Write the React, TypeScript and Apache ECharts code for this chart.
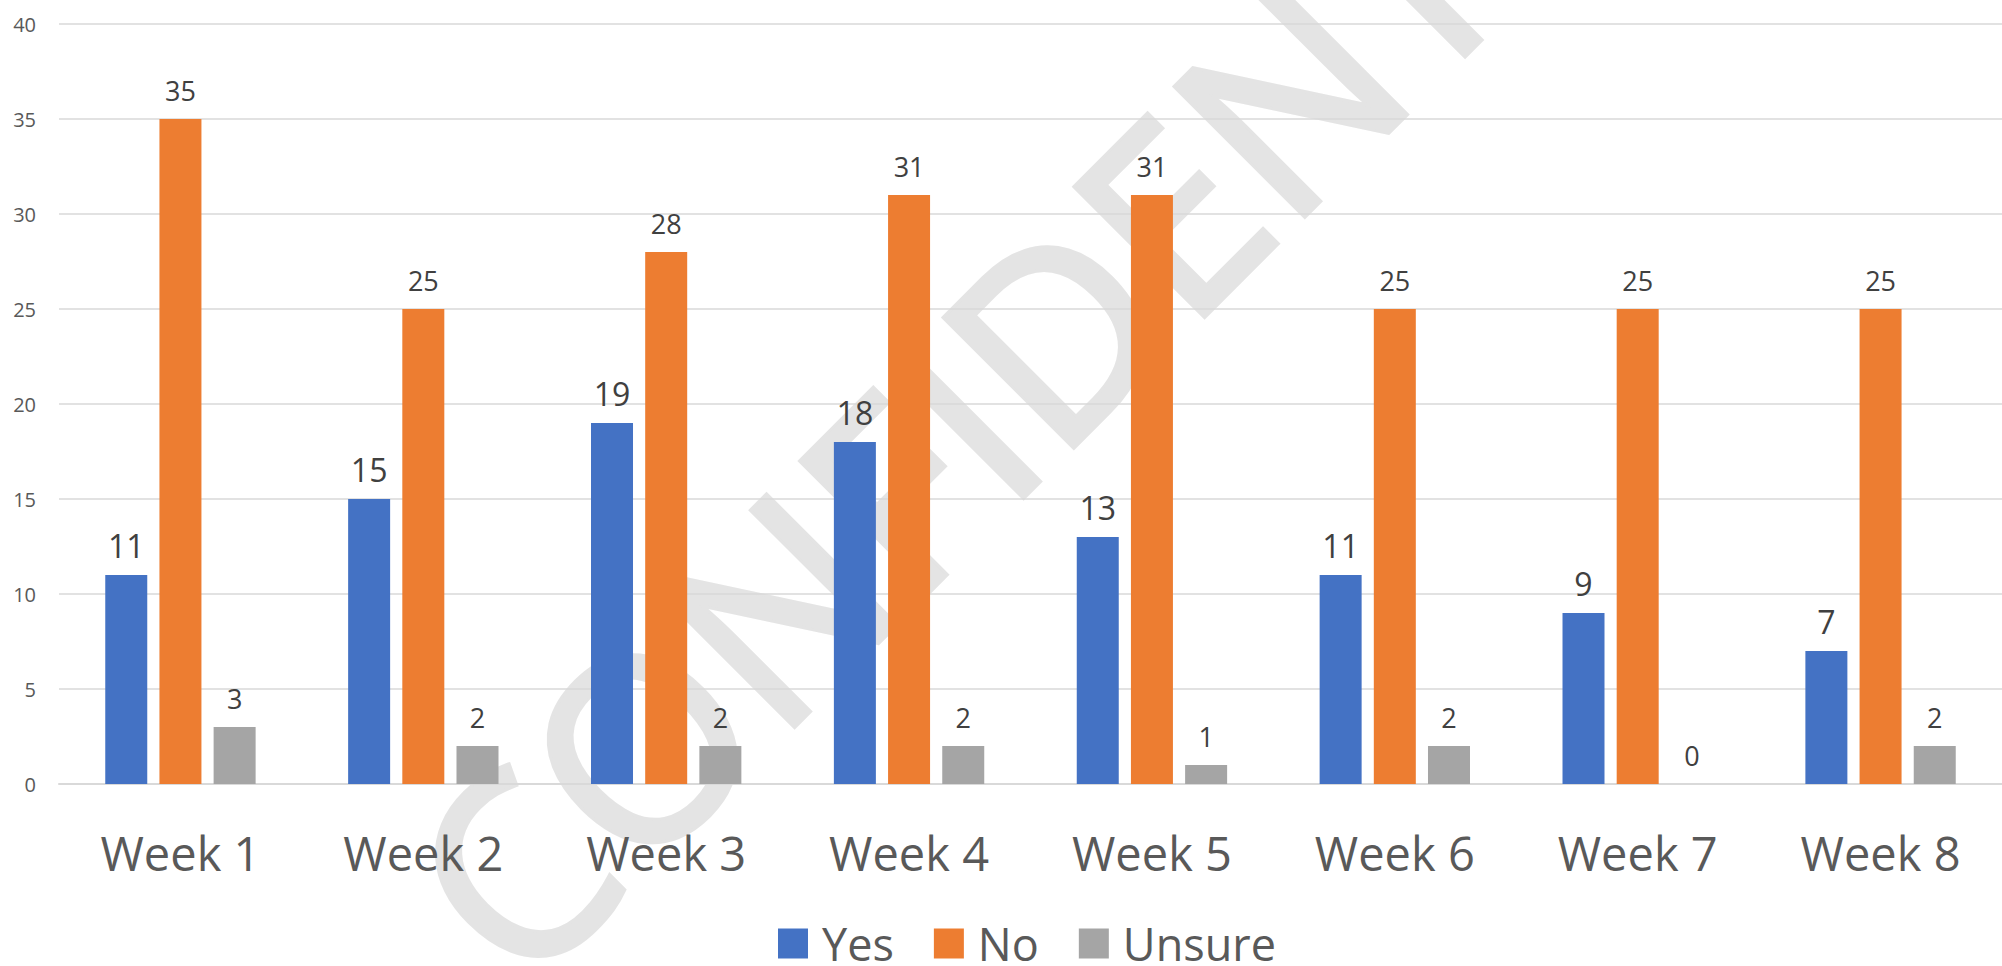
import React, { useEffect, useRef } from "react";
import * as echarts from "echarts";

const categories = ["Week 1", "Week 2", "Week 3", "Week 4", "Week 5", "Week 6", "Week 7", "Week 8"];
const yesValues = [11, 15, 19, 18, 13, 11, 9, 7];
const noValues = [35, 25, 28, 31, 31, 25, 25, 25];
const unsureValues = [3, 2, 2, 2, 1, 2, 0, 2];
const seriesNames = ["Yes", "No", "Unsure"];
const seriesColors = ["#4472C4", "#ED7D31", "#A5A5A5"];
const labelSizes = [32, 27, 27];
const labelDistances = [14, 15, 15];
const watermarkText = "CONFIDENTIAL";

const FONT = "'Open Sans', 'Noto Sans', sans-serif";

export default function App() {
  const ref = useRef<HTMLDivElement>(null);

  useEffect(() => {
    if (!ref.current) return;
    const chart = echarts.init(ref.current, null, { renderer: "svg" });
    const values = [yesValues, noValues, unsureValues];
    chart.setOption({
      animation: false,
      backgroundColor: "#ffffff",
      textStyle: { fontFamily: FONT },
      graphic: [
        {
          type: "text",
          x: 1082,
          y: 298,
          rotation: Math.PI / 4,
          z: -10,
          silent: true,
          style: {
            text: watermarkText,
            fontSize: 255,
            fontFamily: FONT,
            fill: "#e4e4e4",
            stroke: "#e4e4e4",
            lineWidth: 6,
            align: "center",
            verticalAlign: "middle",
            textAlign: "center",
            textVerticalAlign: "middle",
          },
        },
      ],
      grid: { left: 59, right: 0, top: 24, bottom: 182, containLabel: false },
      legend: {
        data: seriesNames,
        left: 773,
        top: 916,
        icon: "rect",
        itemWidth: 30,
        itemHeight: 30,
        itemGap: 40,
        textStyle: { fontSize: 45, color: "#595959", fontFamily: FONT, padding: [0, 0, 0, 9] },
      },
      xAxis: {
        type: "category",
        data: categories,
        axisLine: { lineStyle: { color: "#d9d9d9", width: 2 } },
        axisTick: { show: false },
        axisLabel: { fontSize: 47, color: "#595959", margin: 45, fontFamily: FONT },
      },
      yAxis: {
        type: "value",
        min: 0,
        max: 40,
        interval: 5,
        axisLine: { show: false },
        axisTick: { show: false },
        splitLine: { lineStyle: { color: "#d9d9d9", width: 1.5 } },
        axisLabel: { fontSize: 20, color: "#595959", margin: 23, fontFamily: FONT },
      },
      series: seriesNames.map((name, i) => ({
        name,
        type: "bar",
        data: values[i],
        barWidth: 42,
        barGap: "29%",
        itemStyle: { color: seriesColors[i] },
        label: {
          show: true,
          position: "top",
          distance: labelDistances[i],
          fontSize: labelSizes[i],
          color: "#404040",
          fontFamily: FONT,
        },
      })),
    });
    return () => chart.dispose();
  }, []);

  return (
    <div
      ref={ref}
      style={{ position: "fixed", left: 0, top: 0, width: 2002, height: 966, background: "#fff" }}
    />
  );
}
